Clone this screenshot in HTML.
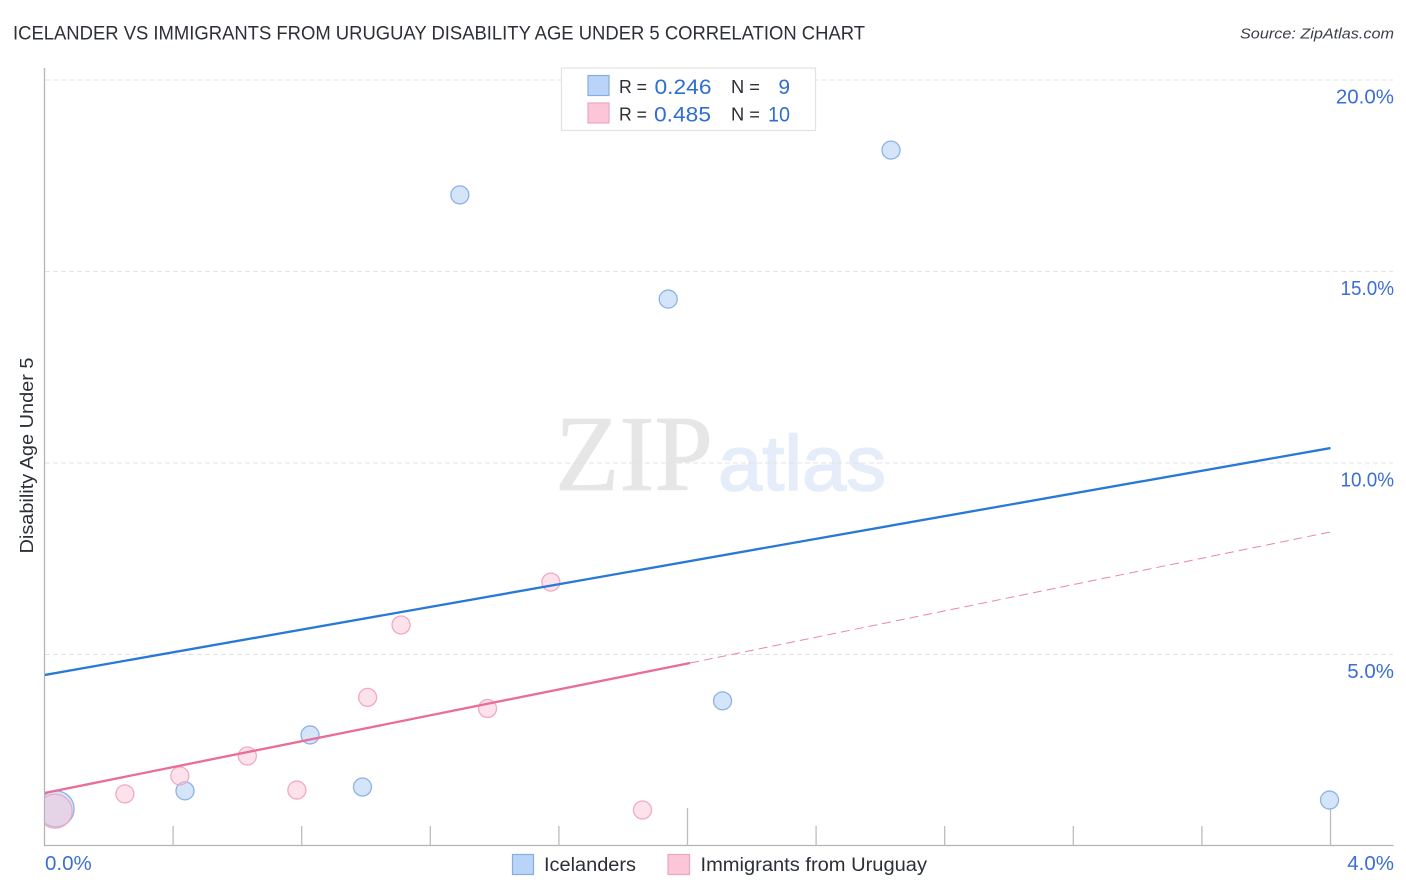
<!DOCTYPE html>
<html lang="en">
<head>
<meta charset="utf-8">
<title>Icelander vs Immigrants from Uruguay Disability Age Under 5 Correlation Chart</title>
<style>
html,body{margin:0;padding:0;background:#fff;}
svg{display:block;font-family:"Liberation Sans",sans-serif;}
</style>
</head>
<body>
<svg id="chart" xmlns="http://www.w3.org/2000/svg" width="1406" height="892" viewBox="0 0 1406 892">
  <defs>
    <clipPath id="plot-clip"><rect x="45" y="60" width="1360" height="786"/></clipPath>
  </defs>
  <rect width="1406" height="892" fill="#ffffff"/>
  <text x="13" y="39.5" font-size="19" fill="#2b2f36" textLength="852" lengthAdjust="spacingAndGlyphs">ICELANDER VS IMMIGRANTS FROM URUGUAY DISABILITY AGE UNDER 5 CORRELATION CHART</text>
  <text x="1394" y="38.5" font-size="15" font-style="italic" fill="#3a3f47" text-anchor="end" textLength="154" lengthAdjust="spacingAndGlyphs">Source: ZipAtlas.com</text>

  <g id="watermark">
    <text x="555" y="490" font-family="'Liberation Serif',serif" font-size="108" fill="#e6e6e6" stroke="#e6e6e6" stroke-width="0.8" textLength="158" lengthAdjust="spacingAndGlyphs">ZIP</text>
    <text x="718" y="490" font-size="78" fill="#e4edf9" stroke="#e4edf9" stroke-width="1.6" textLength="168" lengthAdjust="spacingAndGlyphs">atlas</text>
  </g>

  <g id="grid"></g>
  <g id="axes"></g>
  <g id="series" clip-path="url(#plot-clip)"></g>

  <text transform="translate(33,455.5) rotate(-90)" font-size="18" fill="#2b2f36" text-anchor="middle" textLength="196" lengthAdjust="spacingAndGlyphs">Disability Age Under 5</text>

  <g>
    <rect x="561.5" y="68" width="254" height="62.5" fill="#ffffff" stroke="#e2e2e2" stroke-width="1.2"/>
    <rect x="588" y="75.5" width="21" height="20" fill="#b9d4f8" stroke="#86aee0" stroke-width="1.2"/>
    <rect x="588" y="103" width="21" height="20" fill="#fcc6d8" stroke="#eea6bf" stroke-width="1.2"/>
    <text x="619" y="93" font-size="18" fill="#2b2f36" textLength="28" lengthAdjust="spacingAndGlyphs">R =</text>
    <text x="654.5" y="94" font-size="21" fill="#2f6fd0" textLength="57" lengthAdjust="spacingAndGlyphs">0.246</text>
    <text x="731" y="93" font-size="18" fill="#2b2f36" textLength="29" lengthAdjust="spacingAndGlyphs">N =</text>
    <text x="790" y="94" font-size="21" fill="#2f6fd0" text-anchor="end">9</text>
    <text x="619" y="120.5" font-size="18" fill="#2b2f36" textLength="28" lengthAdjust="spacingAndGlyphs">R =</text>
    <text x="654" y="121.5" font-size="21" fill="#2f6fd0" textLength="57" lengthAdjust="spacingAndGlyphs">0.485</text>
    <text x="731" y="120.5" font-size="18" fill="#2b2f36" textLength="29" lengthAdjust="spacingAndGlyphs">N =</text>
    <text x="790" y="121.5" font-size="21" fill="#2f6fd0" text-anchor="end" textLength="22" lengthAdjust="spacingAndGlyphs">10</text>
  </g>

  <g>
    <rect x="512.5" y="854.5" width="21" height="20" fill="#b9d4f8" stroke="#86aee0" stroke-width="1.2"/>
    <text x="544" y="871" font-size="19" fill="#2b2f36" textLength="92" lengthAdjust="spacingAndGlyphs">Icelanders</text>
    <rect x="668" y="854.5" width="21.5" height="20" fill="#fcc6d8" stroke="#eea6bf" stroke-width="1.2"/>
    <text x="700.5" y="871" font-size="19" fill="#2b2f36" textLength="226.5" lengthAdjust="spacingAndGlyphs">Immigrants from Uruguay</text>
  </g>
</svg>

<script>
// Chart data (x = percent of immigrants, y = disability age under 5 percent)
const icelanderX = [1.292, 2.633, 1.94, 0.826, 0.437, 0.989, 2.109, 3.997, 0.036];
const icelanderY = [17.0, 18.17, 14.28, 2.9, 1.44, 1.54, 3.79, 1.2, 0.97];
const icelanderR = [9, 9, 9, 9, 9, 9, 9, 9, 18];
const uruguayX = [0.25, 0.421, 0.631, 0.785, 1.005, 1.109, 1.378, 1.575, 1.86, 0.033];
const uruguayY = [1.36, 1.83, 2.35, 1.46, 3.88, 5.77, 3.59, 6.89, 0.94, 0.91];
const uruguayR = [9, 9, 9, 9, 9, 9, 9, 9, 9, 17];
const icelanderTrendX = [0, 4];
const icelanderTrendY = [4.465, 10.39];
const uruguayTrendX = [0, 2.008];
const uruguayTrendY = [1.384, 4.778];
const uruguayDashX = [2.008, 4];
const uruguayDashY = [4.778, 8.2];
const yTicks = [5, 10, 15, 20];
const yTickLabels = ['5.0%', '10.0%', '15.0%', '20.0%'];
const xTicks = [0.4, 0.8, 1.2, 1.6, 2.0, 2.4, 2.8, 3.2, 3.6, 4.0];
const xMajorTicks = [2.0, 4.0];
const xEndLabels = ['0.0%', '4.0%'];

const NS = 'http://www.w3.org/2000/svg';
function sx(v) { return 44.5 + v * 321.5; }
function sy(v) { return 846 - v * 38.3; }
function mk(tag, attrs, parent) {
  const el = document.createElementNS(NS, tag);
  for (const k in attrs) el.setAttribute(k, attrs[k]);
  parent.appendChild(el);
  return el;
}

const grid = document.getElementById('grid');
const axes = document.getElementById('axes');
const series = document.getElementById('series');

yTicks.forEach(function (t, i) {
  const line = mk('line', {x1: 45, x2: 1393, y1: sy(t), y2: sy(t), stroke: '#e3e3e3', 'stroke-width': 1, 'stroke-dasharray': '5 3'}, grid);
  
  
  const label = mk('text', {x: 1394, y: sy(t) + 23.5, 'font-size': 20.5, fill: '#3b6fd2', 'text-anchor': 'end'}, axes);
  
  
  if (yTickLabels[i].charAt(0) === '1') {
    label.setAttribute('textLength', '53.5');
    label.setAttribute('lengthAdjust', 'spacingAndGlyphs');
  }
  label.textContent = yTickLabels[i];
});

const yAxis = mk('line', {x1: 44.5, x2: 44.5, y1: 68, y2: 846, stroke: '#b4b4b4', 'stroke-width': 1.3}, axes);



const xAxis = mk('line', {x1: 44, x2: 1393.5, y1: 845.5, y2: 845.5, stroke: '#b4b4b4', 'stroke-width': 1.3}, axes);



xTicks.forEach(function (t) {
  const top = xMajorTicks.indexOf(t) >= 0 ? 808 : 826;
  const tick = mk('line', {x1: sx(t), x2: sx(t), y1: top, y2: 846, stroke: '#bcbcbc', 'stroke-width': 1.3}, axes);
  
  
});

const xLabelLeft = mk('text', {x: 45, y: 870, 'font-size': 20.5, fill: '#3b6fd2'}, axes);


xLabelLeft.textContent = xEndLabels[0];

const xLabelRight = mk('text', {x: 1394, y: 870, 'font-size': 20.5, fill: '#3b6fd2', 'text-anchor': 'end'}, axes);


xLabelRight.textContent = xEndLabels[1];

icelanderX.forEach(function (v, i) {
  const c = mk('circle', {cx: sx(v), cy: sy(icelanderY[i]), r: icelanderR[i], fill: 'rgba(170,203,246,0.5)', stroke: '#8cb2e6', 'stroke-width': 1.3}, series);
  
  
});

uruguayX.forEach(function (v, i) {
  const c = mk('circle', {cx: sx(v), cy: sy(uruguayY[i]), r: uruguayR[i], fill: 'rgba(250,190,210,0.45)', stroke: '#f0aac3', 'stroke-width': 1.3}, series);
  
  
});

const blueTrend = mk('line', {x1: sx(icelanderTrendX[0]), y1: sy(icelanderTrendY[0]), x2: sx(icelanderTrendX[1]), y2: sy(icelanderTrendY[1]), stroke: '#2878d8', 'stroke-width': 2.3}, series);



const pinkTrend = mk('line', {x1: sx(uruguayTrendX[0]), y1: sy(uruguayTrendY[0]), x2: sx(uruguayTrendX[1]), y2: sy(uruguayTrendY[1]), stroke: '#ea6c98', 'stroke-width': 2.3}, series);



const pinkDash = mk('line', {x1: sx(uruguayDashX[0]), y1: sy(uruguayDashY[0]), x2: sx(uruguayDashX[1]), y2: sy(uruguayDashY[1]), stroke: '#ea86a8', 'stroke-width': 1, 'stroke-dasharray': '9 5'}, series);


</script>
</body>
</html>
